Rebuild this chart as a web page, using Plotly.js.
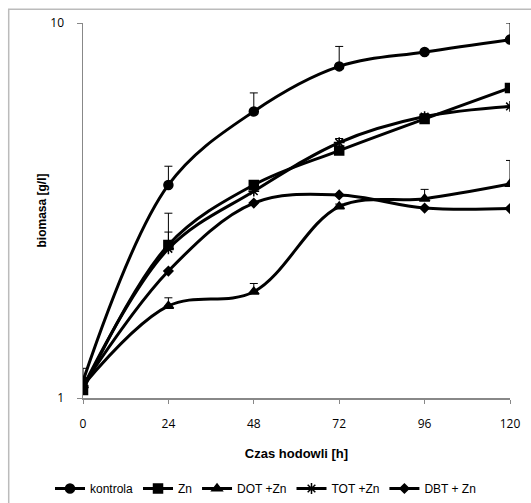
<!DOCTYPE html>
<html>
<head>
<meta charset="utf-8">
<script src="https://cdn.plot.ly/plotly-3.0.1.min.js"></script>
<style>html,body{margin:0;padding:0;background:#fff;}#chart{width:531px;height:503px;}</style>
</head>
<body>
<div id="chart"></div>
<script>
const hours = [0, 24, 48, 72, 96, 120];
const xTicks = [0, 24, 48, 72, 96, 120];

const kontrola = [1.11, 3.70, 5.81, 7.66, 8.37, 9.03];
const kontrolaErr = [0.09, 0.45, 0.70, 1.00, 0.05, 0.97];

const zn = [1.05, 2.56, 3.70, 4.57, 5.55, 6.71];
const znErr = [0.05, 0.55, 0.05, 0.05, 0.08, 0.0];

const dot = [1.08, 1.76, 1.92, 3.24, 3.40, 3.72];
const dotErr = [0.05, 0.09, 0.10, 0.05, 0.20, 0.58];

const tot = [1.07, 2.50, 3.56, 4.80, 5.63, 5.99];
const totErr = [0.06, 0.27, 0.05, 0.12, 0.10, 0.0];

const dbt = [1.08, 2.18, 3.31, 3.48, 3.21, 3.20];
const dbtErr = [0.0, 0.0, 0.0, 0.0, 0.0, 0.0];

const names = ['kontrola', 'Zn', 'DOT +Zn', 'TOT +Zn', 'DBT + Zn'];
const series = [kontrola, zn, dot, tot, dbt];
const errs = [kontrolaErr, znErr, dotErr, totErr, dbtErr];
const symbols = ['circle', 'square', 'triangle-up', 'asterisk-open', 'diamond'];
const sizes = [9, 9, 9, 9, 7];

const traces = series.map((ys, i) => ({
  x: hours,
  y: ys,
  name: names[i],
  type: 'scatter',
  mode: 'lines+markers',
  line: {color: '#000', width: 3, shape: 'spline', smoothing: 1},
  marker: {symbol: symbols[i], size: sizes[i], color: '#000', line: {color: '#000', width: 1.5}},
  error_y: {type: 'data', symmetric: false, array: errs[i], arrayminus: ys.map(() => 0), color: '#000', thickness: 1, width: 4}
}));

const layout = {
  width: 531,
  height: 503,
  margin: {l: 82.5, r: 20.5, t: 23.3, b: 104.7},
  paper_bgcolor: '#fff',
  plot_bgcolor: '#fff',
  showlegend: true,
  font: {family: '"Open Sans", "Liberation Sans", sans-serif', size: 11, color: '#000'},
  xaxis: {
    range: [0, 120],
    tickvals: xTicks,
    ticktext: xTicks.map(String),
    showgrid: false,
    zeroline: false,
    showline: true,
    linecolor: '#888',
    linewidth: 1.5,
    ticks: 'outside',
    ticklen: 4,
    tickcolor: '#888',
    ticklabelstandoff: 10,
    tickfont: {size: 12},
    title: {text: 'Czas hodowli [h]', font: {family: '"Liberation Sans", Arial, sans-serif', size: 13, color: '#000', weight: 'bold'}, standoff: 18},
    fixedrange: true
  },
  yaxis: {
    type: 'log',
    range: [0, 1],
    tickvals: [1, 10],
    ticktext: ['1', '10'],
    showgrid: false,
    zeroline: false,
    showline: true,
    linecolor: '#888',
    linewidth: 1.5,
    ticks: 'outside',
    ticklen: 5,
    tickcolor: '#888',
    ticklabelstandoff: 10,
    tickfont: {size: 12},
    title: {text: 'biomasa [g/l]', font: {family: '"Liberation Sans", Arial, sans-serif', size: 12, color: '#000', weight: 'bold'}, standoff: 1},
    fixedrange: true
  },
  legend: {
    orientation: 'h',
    x: 0.5,
    xanchor: 'center',
    xref: 'container',
    y: 16,
    yref: 'container',
    yanchor: 'middle',
    font: {family: '"Liberation Sans", Arial, sans-serif', size: 12},
    itemwidth: 30,
    tracegroupgap: 0,
    traceorder: 'normal'
  },
  shapes: [{
    type: 'rect', xref: 'paper', yref: 'paper',
    x0: -0.174, x1: 1.2, y0: -0.3, y1: 1.037,
    line: {color: '#bbb', width: 1.5}, fillcolor: 'rgba(0,0,0,0)'
  }]
};

Plotly.newPlot('chart', traces, layout, {displayModeBar: false, staticPlot: true});
</script>
</body>
</html>
